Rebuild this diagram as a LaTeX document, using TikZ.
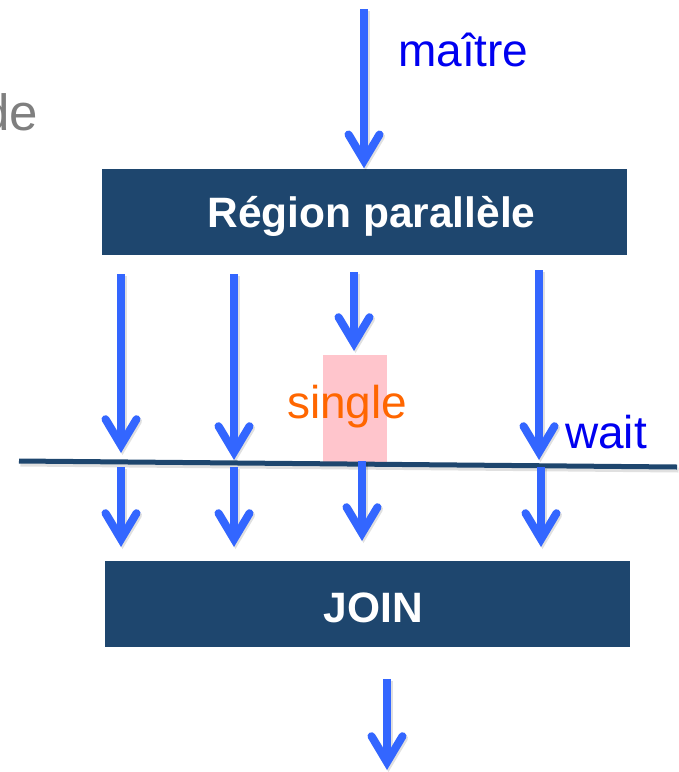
\documentclass[tikz,border=0pt]{standalone}
\usepackage{fontspec}
\setmainfont{Liberation Sans}
\usetikzlibrary{arrows.meta}

\definecolor{boxblue}{HTML}{1E466E}
\definecolor{flowblue}{HTML}{3366FF}
\definecolor{labelblue}{HTML}{0000F0}
\definecolor{singlepink}{HTML}{FFC5CC}
\definecolor{singleorange}{HTML}{FF6600}
\definecolor{notegray}{HTML}{7F7F7F}

\tikzset{
  flow/.style={draw=flowblue, line width=8pt,
    -{Straight Barb[length=26pt, width=31pt, line cap=round, line join=miter]},
    preaction={draw=black, opacity=0.12, line width=8pt,
      transform canvas={shift={(1.5pt,-2pt)}}}},
  bigbox/.style={fill=boxblue, draw=none, minimum width=525pt,
    minimum height=86pt, inner sep=0pt},
  boxtext/.style={text=white, inner sep=0pt,
    font=\fontsize{42.5}{50}\selectfont\bfseries},
  label/.style={inner sep=0pt, anchor=base west,
    font=\fontsize{46}{54}\selectfont},
  barrier/.style={draw=boxblue, line width=5pt,
    preaction={draw=black, opacity=0.12, line width=5pt,
      transform canvas={shift={(1.5pt,-3pt)}}}}
}

\begin{document}
\begin{tikzpicture}[x=1pt, y=-1pt]
\useasboundingbox (0,0) rectangle (679,772);

% truncated note text at the left edge
\node[inner sep=0pt, anchor=base east, text=notegray,
      font=\fontsize{51}{60}\selectfont] (note) at (38,130) {de};

% main blocks
\node[bigbox] (region) at (364.5,211.5) {};
\node[boxtext] (regiontext) at ([shift={(7,5)}]region.center) {Région parallèle};
\node[bigbox] (join) at (367.5,604) {};
\node[boxtext] (jointext) at ([shift={(6,4)}]join.center) {JOIN};

% highlighted single area
\node[fill=singlepink, inner sep=0pt, minimum width=64pt, minimum height=108pt]
  (pink) at (355,409) {};
\node[label, text=singleorange] (single) at (287,418) {single};

% master thread entering the region
\coordinate (m0) at (364,9);
\draw[flow] (m0) -- (m0 |- region.north);
\node[label, text=labelblue] (maitre) at (398,66) {maître};

% threads inside the region
\coordinate (a1s) at (121,274); \coordinate (a1e) at (121,453);
\coordinate (a2s) at (234,274); \coordinate (a2e) at (234,460);
\coordinate (a3s) at (354,272); \coordinate (a3e) at (354,351);
\coordinate (a4s) at (539,270); \coordinate (a4e) at (539,460);
\draw[flow] (a1s) -- (a1e);
\draw[flow] (a2s) -- (a2e);
\draw[flow] (a3s) -- (a3e);
\draw[flow] (a4s) -- (a4e);

% implicit barrier
\coordinate (wl) at (19,461);
\coordinate (wr) at (677,467);
\draw[barrier] (wl) -- (wr);
\node[label, text=labelblue] (wait) at (565,448) {wait};

% threads after the barrier
\coordinate (b1s) at (121,467); \coordinate (b1e) at (121,547);
\coordinate (b2s) at (234,467); \coordinate (b2e) at (234,547);
\coordinate (b3s) at (362,461); \coordinate (b3e) at (362,541);
\coordinate (b4s) at (541,467); \coordinate (b4e) at (541,547);
\draw[flow] (b1s) -- (b1e);
\draw[flow] (b2s) -- (b2e);
\draw[flow] (b3s) -- (b3e);
\draw[flow] (b4s) -- (b4e);

% continuation after the join
\coordinate (c0) at (387,679);
\coordinate (c1) at (387,770);
\draw[flow] (c0) -- (c1);
\end{tikzpicture}
\end{document}
